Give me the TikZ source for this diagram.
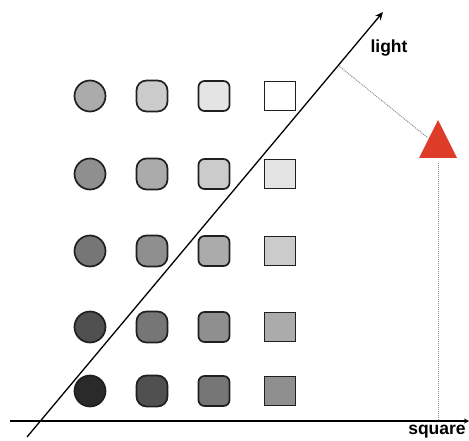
\documentclass[tikz,border=0pt]{standalone}
\usepackage{fontspec}
\setmainfont{Liberation Sans}
\usetikzlibrary{arrows.meta}
\definecolor{lv0}{HTML}{FFFFFF}
\definecolor{lv1}{HTML}{E4E4E4}
\definecolor{lv2}{HTML}{CBCBCB}
\definecolor{lv3}{HTML}{ABABAB}
\definecolor{lv4}{HTML}{8F8F8F}
\definecolor{lv5}{HTML}{767676}
\definecolor{lv6}{HTML}{505050}
\definecolor{lv7}{HTML}{2A2A2A}
\definecolor{tri}{HTML}{DC3C28}
\tikzset{
  shapebase/.style={draw=black!88, line width=1.7pt, inner sep=0pt},
  circ/.style={shapebase, circle, minimum size=31pt},
  rbig/.style={shapebase, rectangle, rounded corners=10pt, minimum width=31pt, minimum height=31pt},
  rsmall/.style={shapebase, rectangle, rounded corners=6pt, minimum width=31pt, minimum height=30pt},
  sq/.style={shapebase, rectangle, minimum width=31pt, minimum height=29pt},
  axis/.style={line width=1.3pt, -{Stealth[length=8pt,width=7pt]}},
  guide/.style={densely dotted, line width=1pt, black!45},
  lab/.style={font=\fontsize{17.5}{20}\selectfont\bfseries, inner sep=0pt}
}
\begin{document}
\begin{tikzpicture}[x=1pt,y=-1pt]
\useasboundingbox (0,0) rectangle (469,441);
% axes
\coordinate (h0) at (10,421);
\coordinate (h1) at (469,421);
\coordinate (d0) at (27,437);
\coordinate (d1) at (383,12);
\draw[line width=1.3pt, -{Stealth[length=5pt,width=5pt]}] (h0) -- (h1);
\draw[axis] (d0) -- (d1);
\node[lab] (light) at (389,48) {light};
\node[lab] (square) at (437,432) {square};
% shapes
\foreach \r/\y in {0/96,1/174,2/251,3/327,4/391}{
  \pgfmathtruncatemacro{\la}{\r+3}
  \pgfmathtruncatemacro{\lb}{\r+2}
  \pgfmathtruncatemacro{\lc}{\r+1}
  \pgfmathtruncatemacro{\ld}{\r}
  \node[circ, fill=lv\la] (s\r a) at (90,\y) {};
  \node[rbig, fill=lv\lb] (s\r b) at (152,\y) {};
  \node[rsmall, fill=lv\lc] (s\r c) at (214,\y) {};
  \node[sq, fill=lv\ld] (s\r d) at (280,\y) {};
}
% triangle
\coordinate (ta) at (438,120);
\coordinate (tl) at (419,158);
\coordinate (tr) at (457,158);
\fill[tri] (ta) -- (tl) -- (tr) -- cycle;
\coordinate (dp) at (339,66);
\coordinate (tc) at (428,138);
\coordinate (tb) at (438,163);
\coordinate (hb) at (438,421);
\draw[guide] (dp) -- (tc);
\draw[guide] (tb) -- (hb);
\end{tikzpicture}
\end{document}
